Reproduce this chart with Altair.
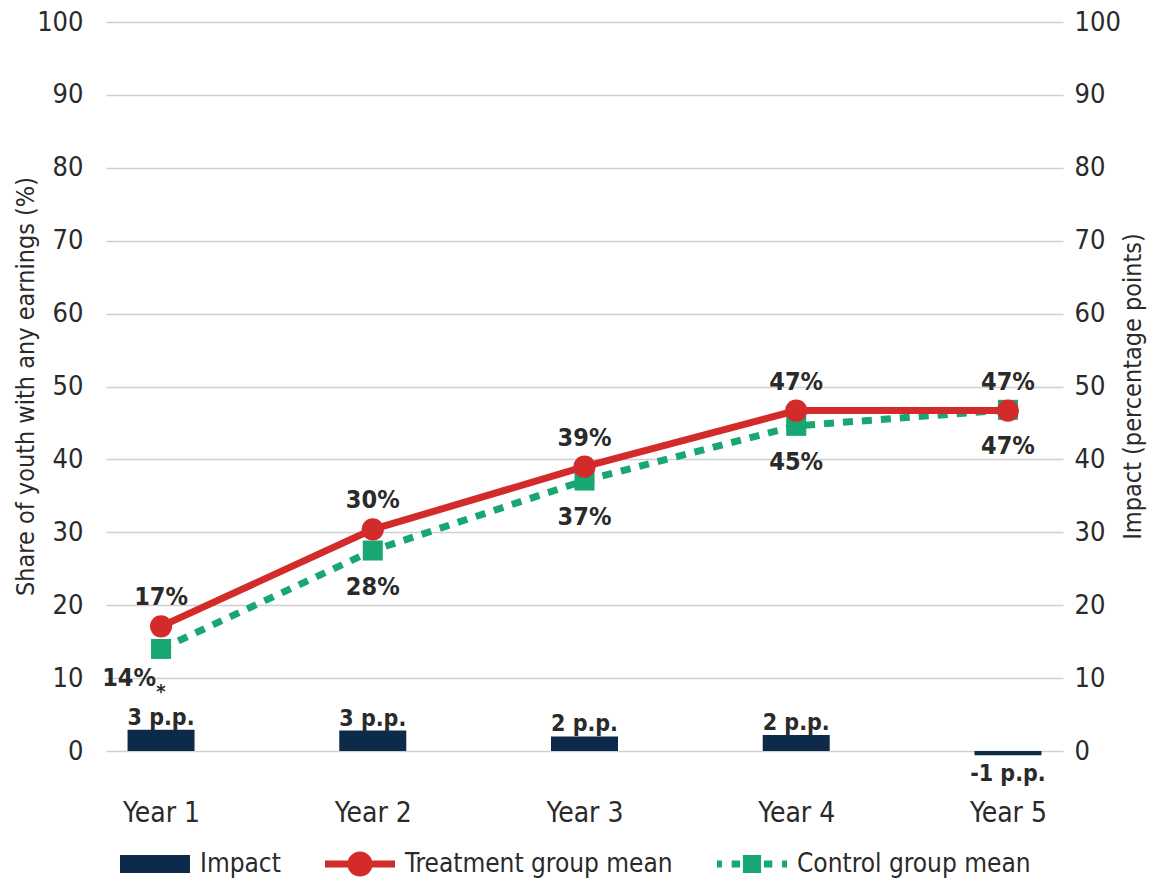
import altair as alt
import pandas as pd

# Values per follow-up year
years = ["Year 1", "Year 2", "Year 3", "Year 4", "Year 5"]
treatment_mean = [17.1, 30.4, 39.0, 46.7, 46.7]
control_mean = [14.0, 27.5, 37.1, 44.6, 46.8]
impact_pp = [2.9, 2.8, 2.0, 2.2, -0.6]
significance = ["*", "", "", "", ""]

series_names = ["Impact", "Treatment group mean", "Control group mean"]
series_colors = ["#0e2a4a", "#d32a2a", "#18a672"]

# Legend glyphs as custom symbol paths (unit box -1..1)
legend_paths = [
    "M-1,-0.26H1V0.26H-1Z",
    "M-1,-0.1H1V0.1H-1Z M0.36,0A0.36,0.36,0,1,1,-0.36,0A0.36,0.36,0,1,1,0.36,0Z",
    "M-1,-0.1H-0.86V0.1H-1Z M-0.58,-0.1H-0.34V0.1H-0.58Z M-0.26,-0.26H0.26V0.26H-0.26Z "
    "M0.34,-0.1H0.58V0.1H0.34Z M0.86,-0.1H1V0.1H0.86Z",
]

NAVY, RED, GREEN = series_colors
FONT = "'DejaVu Sans Condensed', 'Liberation Sans Narrow', 'Liberation Sans', sans-serif"
TEXT = "#2a2a2a"

df = pd.DataFrame({
    "year": years,
    "treatment": treatment_mean,
    "control": control_mean,
    "impact": impact_pp,
    "sig": significance,
})

base = alt.Chart(df)

x_enc = alt.X(
    "year:N", sort=years,
    scale=alt.Scale(type="point", padding=0.26),
    axis=alt.Axis(title=None, labelFontSize=28, labelFont=FONT, labelColor=TEXT,
                  labelPadding=48, ticks=False, tickSize=0, domain=False, grid=False,
                  labelAngle=0),
)
y_scale = alt.Scale(domain=[0, 100], nice=False, zero=False)


def y_plain(field):
    return alt.Y(f"{field}:Q", scale=y_scale, axis=None)


# Impact bars on the right-hand axis
bars = base.mark_bar(size=67, color=NAVY).encode(
    x=x_enc,
    y=alt.Y("impact:Q", scale=y_scale, axis=alt.Axis(
        orient="right", title="Impact (percentage points)", values=list(range(0, 101, 10)),
        grid=False, ticks=False, tickSize=0, domain=False, labelFontSize=27, labelFont=FONT,
        labelColor=TEXT, labelPadding=11, titleFont=FONT, titleFontSize=25,
        titleFontWeight="normal", titleColor=TEXT, titleAngle=270, titleX=69, titleY=364,
        titleAlign="center", titleBaseline="middle")),
)

control_line = base.mark_line(color=GREEN, strokeWidth=7, strokeDash=[10, 9]).encode(
    x=x_enc, y=y_plain("control"))
control_pts = base.mark_point(shape="square", filled=True, size=400, color=GREEN, opacity=1).encode(
    x=x_enc, y=y_plain("control"))

treat_line = base.mark_line(color=RED, strokeWidth=7).encode(
    x=x_enc,
    y=alt.Y("treatment:Q", scale=y_scale, axis=alt.Axis(
        title="Share of youth with any earnings (%)", values=list(range(0, 101, 10)),
        grid=True, gridColor="#d0d0d0", gridWidth=1.5, ticks=False, tickSize=0, domain=False,
        labelFontSize=27, labelFont=FONT, labelColor=TEXT, labelPadding=23,
        titleFont=FONT, titleFontSize=25, titleFontWeight="normal", titleColor=TEXT,
        titleAngle=270, titleX=-81, titleY=364, titleAlign="center",
        titleBaseline="middle")),
)
treat_pts = base.mark_point(shape="circle", filled=True, size=490, color=RED, opacity=1).encode(
    x=x_enc, y=y_plain("treatment"))

label_style = dict(font=FONT, fontSize=25, fontWeight="bold", color=TEXT)

treat_labels = base.transform_calculate(
    lbl="format(datum.treatment, '.0f') + '%'"
).mark_text(dy=-29, **label_style).encode(x=x_enc, y=y_plain("treatment"), text="lbl:N")

control_labels = base.transform_filter("datum.year != 'Year 1'").transform_calculate(
    lbl="format(datum.control, '.0f') + '%'"
).mark_text(dy=36, **label_style).encode(x=x_enc, y=y_plain("control"), text="lbl:N")

control_label_first = base.transform_filter("datum.year == 'Year 1'").transform_calculate(
    lbl="format(datum.control, '.0f') + '%'"
).mark_text(dx=-32, dy=29, **label_style).encode(x=x_enc, y=y_plain("control"), text="lbl:N")

impact_style = dict(font=FONT, fontSize=23, fontWeight="bold", color=TEXT)

impact_pos = base.transform_filter("datum.impact >= 0").transform_calculate(
    lbl="round(datum.impact) + ' p.p.'"
).mark_text(baseline="alphabetic", dy=-5, **impact_style).encode(
    x=x_enc, y=y_plain("impact"), text="lbl:N")

impact_neg = base.transform_filter("datum.impact < 0").transform_calculate(
    lbl="round(datum.impact) + ' p.p.'"
).mark_text(baseline="top", dy=8, **impact_style).encode(
    x=x_enc, y=y_plain("impact"), text="lbl:N")

sig_marks = base.transform_filter("datum.sig != ''").mark_text(
    baseline="alphabetic", dy=-32, font=FONT, fontSize=20, fontWeight="bold", color=TEXT
).encode(x=x_enc, y=y_plain("impact"), text="sig:N")

# Legend layer: no rows drawn, only the legend from the explicit scales
legend_def = alt.Legend(
    title=None, orient="none", legendX=14, legendY=807, direction="horizontal",
    symbolSize=4900, symbolStrokeWidth=0, labelFont=FONT, labelFontSize=26,
    labelColor=TEXT, labelOffset=10, labelLimit=500, columnPadding=44, padding=0,
    symbolOpacity=1,
)
legend_layer = base.transform_filter("false").transform_calculate(
    series="'Impact'"
).mark_point(filled=True, opacity=1).encode(
    color=alt.Color("series:N", scale=alt.Scale(domain=series_names, range=series_colors),
                    legend=legend_def),
    shape=alt.Shape("series:N", scale=alt.Scale(domain=series_names, range=legend_paths),
                    legend=legend_def),
)

chart = alt.layer(
    bars, control_line, control_pts, treat_line, treat_pts,
    treat_labels, control_labels, control_label_first,
    impact_pos, impact_neg, sig_marks, legend_layer,
).resolve_scale(y="independent").properties(
    width=957, height=729,
    autosize=alt.AutoSizeParams(type="none"),
    padding={"left": 106, "top": 22, "right": 93, "bottom": 131},
    background="white",
).configure_view(stroke=None)

chart.save("out.html", embed_options={"renderer": "svg", "actions": False})
